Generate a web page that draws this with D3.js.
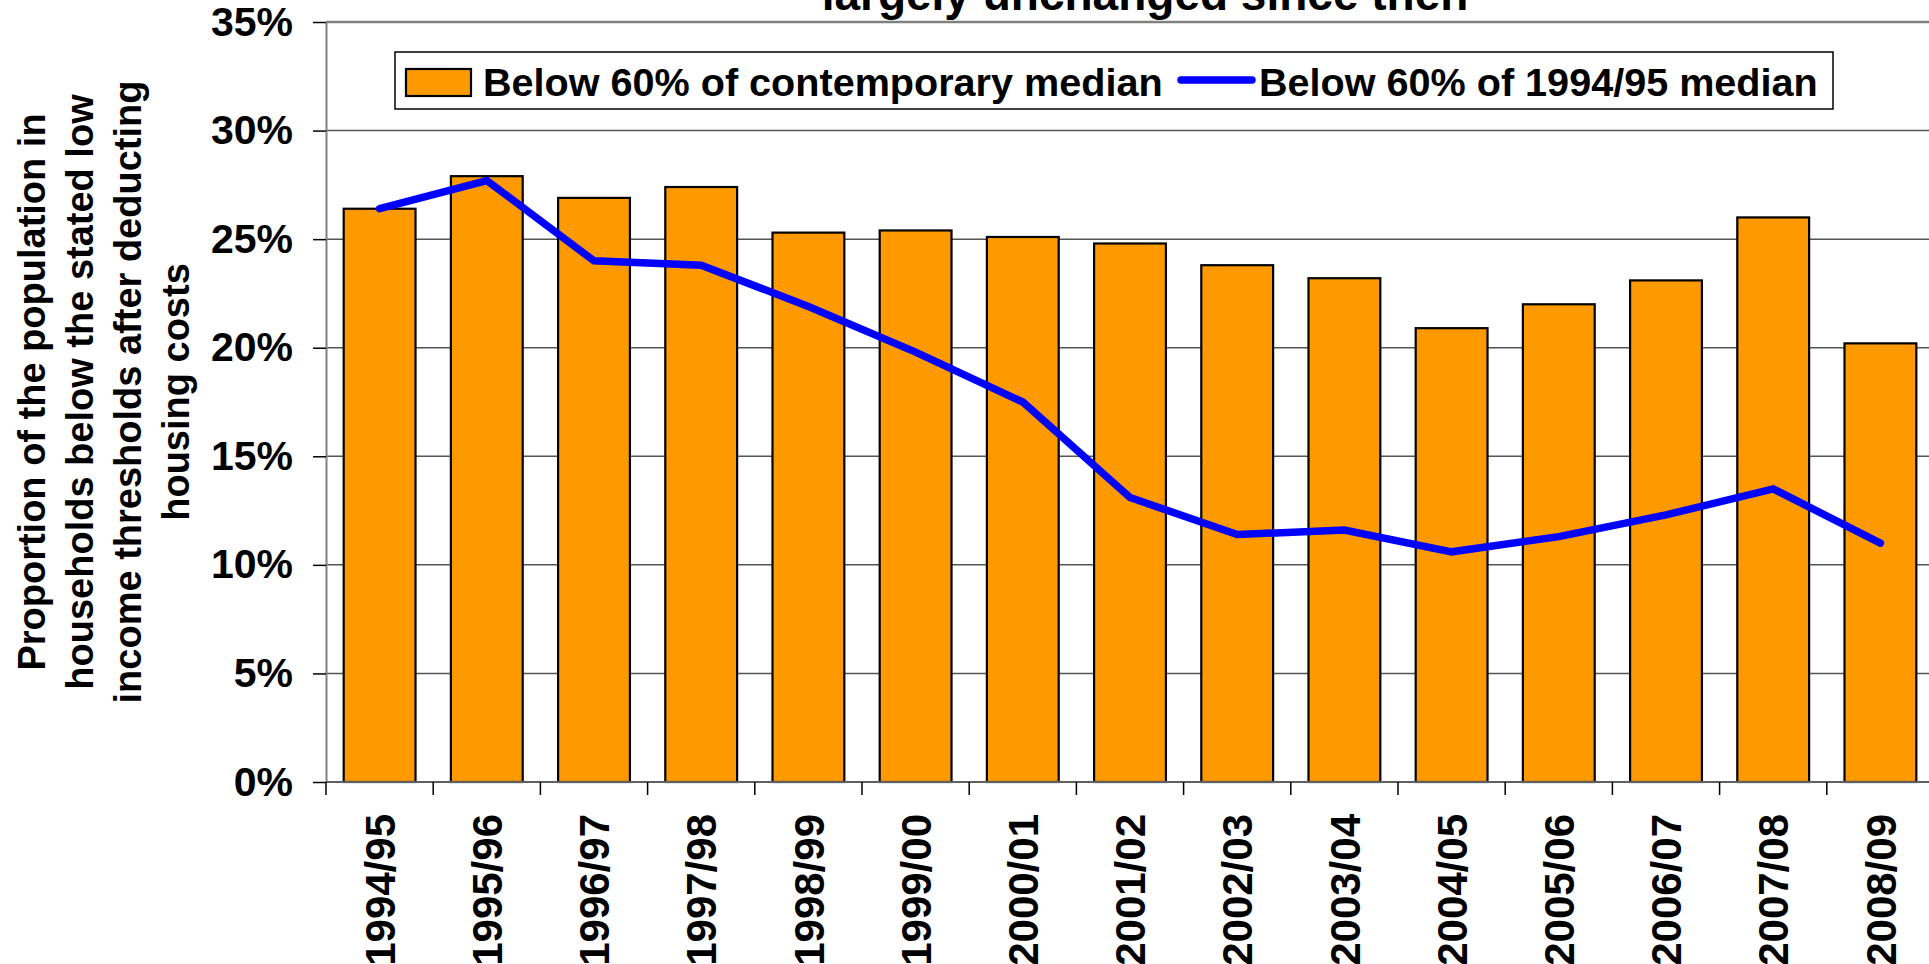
<!DOCTYPE html>
<html>
<head>
<meta charset="utf-8">
<script src="https://cdn.jsdelivr.net/npm/d3@7"></script>
<style>
  html, body { margin: 0; padding: 0; background: #fff; overflow: hidden; }
  svg { display: block; font-family: "Liberation Sans", Arial, sans-serif; font-weight: bold; }
</style>
</head>
<body>
<svg id="chart" width="1929" height="964"></svg>
<script>
const categories = ["1994/95","1995/96","1996/97","1997/98","1998/99","1999/00","2000/01","2001/02","2002/03","2003/04","2004/05","2005/06","2006/07","2007/08","2008/09"];
const contemporaryMedian = [26.4, 27.9, 26.9, 27.4, 25.3, 25.4, 25.1, 24.8, 23.8, 23.2, 20.9, 22.0, 23.1, 26.0, 20.2];
const fixedMedian1994 = [26.4, 27.7, 24.0, 23.8, 21.9, 19.8, 17.5, 13.1, 11.4, 11.6, 10.6, 11.3, 12.3, 13.5, 11.0];
const yTicks = [0, 5, 10, 15, 20, 25, 30, 35];
const seriesNames = ["Below 60% of contemporary median", "Below 60% of 1994/95 median"];
const titleLine = "largely unchanged since then";
const yTitleLines = ["Proportion of the population in", "households below the stated low", "income thresholds after deducting", "housing costs"];

const svg = d3.select("#chart");
const plot = { left: 326, right: 1934, top: 22, bottom: 782 };

const x = d3.scaleBand().domain(categories).range([plot.left, plot.right])
  .paddingInner(0.33).paddingOuter(0.165);
const y = d3.scaleLinear().domain([0, 35]).range([plot.bottom, plot.top]);
const step = x.step();
const gap = step - x.bandwidth();

// title (second line, partly cut off at top)
svg.append("text").attr("x", 1145).attr("y", 10).attr("text-anchor", "middle")
  .attr("font-size", 46).attr("fill", "#000").text(titleLine);

// gridlines
svg.append("g").selectAll("line").data(yTicks.filter(d => d > 0)).join("line")
  .attr("x1", plot.left).attr("x2", 1929)
  .attr("y1", d => y(d)).attr("y2", d => y(d))
  .attr("stroke", d => d === 35 ? "#808080" : "#555").attr("stroke-width", d => d === 35 ? 2.5 : 1.5);

// y axis
const yAxis = svg.append("g").attr("transform", `translate(${plot.left},0)`)
  .call(d3.axisLeft(y).tickValues(yTicks).tickFormat(d => d + "%").tickSize(13).tickSizeOuter(0).tickPadding(20));
yAxis.select(".domain").attr("stroke", "#808080").attr("stroke-width", 2);
yAxis.selectAll(".tick line").attr("stroke", "#000").attr("stroke-width", 1.5);
yAxis.selectAll(".tick text").attr("font-size", 41).attr("font-family", "Liberation Sans, Arial, sans-serif")
  .attr("font-weight", "bold").attr("fill", "#000");

// bars
svg.append("g").selectAll("rect").data(categories).join("rect")
  .attr("x", d => x(d)).attr("width", x.bandwidth())
  .attr("y", (d, i) => y(contemporaryMedian[i]))
  .attr("height", (d, i) => y(0) - y(contemporaryMedian[i]))
  .attr("fill", "#FF9900").attr("stroke", "#000").attr("stroke-width", 2.2);

// x axis baseline and ticks
svg.append("line").attr("x1", plot.left).attr("x2", 1929).attr("y1", y(0)).attr("y2", y(0))
  .attr("stroke", "#606060").attr("stroke-width", 2);
const boundaries = categories.map(c => x(c) - gap / 2).concat([x(categories[categories.length - 1]) + x.bandwidth() + gap / 2]);
svg.append("g").selectAll("line").data(boundaries).join("line")
  .attr("x1", d => d).attr("x2", d => d).attr("y1", y(0)).attr("y2", y(0) + 13)
  .attr("stroke", "#000").attr("stroke-width", 1.5);

// x labels
svg.append("g").selectAll("text").data(categories).join("text")
  .attr("transform", d => `translate(${x(d) + x.bandwidth() / 2},814) rotate(-90)`)
  .attr("text-anchor", "end").attr("dy", "0.36em")
  .attr("font-size", 42).attr("fill", "#000").text(d => d);

// line series
const line = d3.line().x((d, i) => x(categories[i]) + x.bandwidth() / 2).y(d => y(d));
svg.append("path").datum(fixedMedian1994).attr("d", line)
  .attr("fill", "none").attr("stroke", "#0000FF").attr("stroke-width", 7.5)
  .attr("stroke-linecap", "round").attr("stroke-linejoin", "miter");

// y title
yTitleLines.forEach((t, i) => {
  svg.append("text").attr("transform", `translate(${45 + i * 48},392) rotate(-90)`)
    .attr("text-anchor", "middle").attr("font-size", 38).attr("fill", "#000").text(t);
});

// legend
const lg = svg.append("g");
lg.append("rect").attr("x", 395).attr("y", 52).attr("width", 1438).attr("height", 57)
  .attr("fill", "#fff").attr("stroke", "#000").attr("stroke-width", 1.5);
lg.append("rect").attr("x", 406).attr("y", 69).attr("width", 65).attr("height", 27)
  .attr("fill", "#FF9900").attr("stroke", "#000").attr("stroke-width", 2.2);
lg.append("text").attr("x", 483).attr("y", 96).attr("font-size", 39.6).attr("fill", "#000").text(seriesNames[0]);
lg.append("line").attr("x1", 1181).attr("x2", 1252).attr("y1", 80).attr("y2", 80)
  .attr("stroke", "#0000FF").attr("stroke-width", 7.5).attr("stroke-linecap", "round");
lg.append("text").attr("x", 1259).attr("y", 96).attr("font-size", 39.6).attr("fill", "#000").text(seriesNames[1]);
</script>
</body>
</html>
